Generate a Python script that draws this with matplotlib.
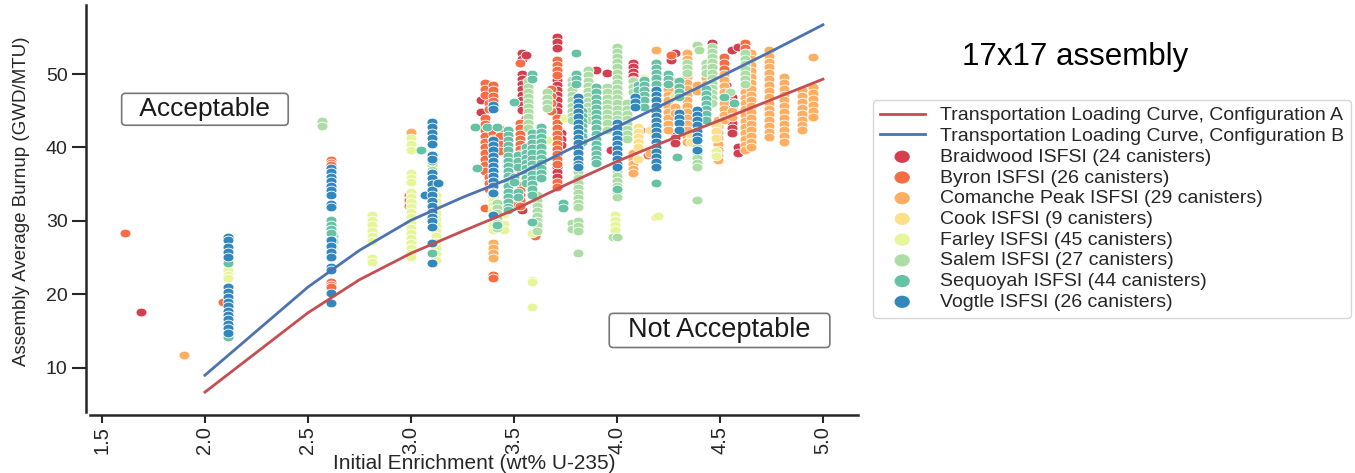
import matplotlib
matplotlib.use("Agg")
import matplotlib.pyplot as plt
from matplotlib.path import Path

plt.rcParams['font.family'] = ['Liberation Sans', 'DejaVu Sans']

# loading curves (enrichment wt% -> minimum burnup GWD/MTU)
curve_enrichment = [2.0, 2.25, 2.5, 2.75, 3.0, 3.25, 3.5, 3.75, 4.0, 4.25, 4.5, 4.75, 5.0]
curve_config_a = [6.7, 12.1, 17.5, 22.0, 25.6, 28.6, 31.5, 34.9, 38.1, 41.0, 43.7, 46.5, 49.3]
curve_config_b = [9.0, 15.0, 21.0, 26.0, 30.1, 33.2, 36.0, 39.5, 42.8, 46.2, 49.6, 53.1, 56.7]

site_labels = [
    "Braidwood ISFSI (24 canisters)",
    "Byron ISFSI (26 canisters)",
    "Comanche Peak ISFSI (29 canisters)",
    "Cook ISFSI (9 canisters)",
    "Farley ISFSI (45 canisters)",
    "Salem ISFSI (27 canisters)",
    "Sequoyah ISFSI (44 canisters)",
    "Vogtle ISFSI (26 canisters)",
]
site_colors = ['#d53e4f', '#f46d43', '#fdae61', '#fee08b',
               '#e6f598', '#abdda4', '#66c2a5', '#3288bd']

# assemblies per site: (initial enrichment, [burnups])
braidwood = [
    (1.69, [17.6]),
    (3.34, [46.5, 44.8]),
    (3.54, [52.8, 52.1, 50.0, 49.3, 48.6, 47.9, 47.2, 46.5, 45.8, 45.1, 31.5]),
    (3.56, [52.6, 44.0, 43.2]),
    (3.71, [55.0, 54.3, 53.5, 49.2, 48.5, 47.8, 47.1, 46.4, 45.7, 45.0, 37.3, 36.6, 36.0]),
    (3.73, [42.0, 41.2, 40.4]),
    (3.90, [50.5, 47.8, 39.7]),
    (3.95, [50.1, 48.1]),
    (3.97, [39.7]),
    (4.08, [51.5, 50.9, 50.3, 49.7, 49.2]),
    (4.11, [42.4]),
    (4.26, [51.9]),
    (4.28, [52.8, 42.0, 41.3, 40.6]),
    (4.46, [54.2]),
    (4.53, [48.5, 47.8, 47.1, 45.4, 44.7]),
    (4.56, [53.3, 46.9, 46.2, 45.5, 44.8, 44.1, 43.4, 42.7, 42.0]),
    (4.59, [53.7, 40.0, 39.2]),
]
byron = [
    (1.61, [28.4]),
    (2.09, [19.0]),
    (2.11, [21.0, 20.6, 20.2]),
    (2.61, [38.3, 37.9, 37.6, 21.7, 21.3, 21.0]),
    (2.99, [33.5, 32.8, 32.0]),
    (3.36, [48.8, 48.0, 47.2, 44.0, 43.2, 42.4, 41.6, 40.8, 40.0, 39.2, 38.4, 37.6, 36.8, 31.7]),
    (3.38, [46.0, 45.2, 36.0, 35.2, 34.4]),
    (3.40, [48.5, 47.8, 47.0, 46.3, 45.5, 42.0, 41.2, 40.4, 39.6, 38.8, 38.0, 37.2, 36.4,
            35.6, 34.8, 34.0, 33.2, 32.4, 22.6, 22.3]),
    (3.43, [42.5, 41.5, 40.5, 39.5]),
    (3.50, [33.0, 32.2]),
    (3.53, [51.5, 43.3, 42.6, 41.9, 41.2, 40.5, 39.8, 39.1, 38.4, 37.7, 37.0, 36.3, 35.6,
            34.9, 34.2, 33.5, 32.8, 32.1]),
    (3.60, [28.0]),
    (3.68, [48.0, 47.0, 46.0, 45.0]),
    (3.71, [51.9, 51.2, 50.5, 49.8, 44.0, 43.3, 42.6, 41.9, 41.2, 40.5, 39.8, 39.1, 38.4,
            37.7, 35.3, 34.6]),
    (4.10, [47.5, 46.5]),
    (4.15, [39.0]),
    (4.26, [52.6, 49.0, 48.2, 47.4]),
    (4.34, [50.3, 45.0, 44.2]),
    (4.45, [51.0, 50.2]),
    (4.52, [52.3, 51.5, 50.7]),
    (4.62, [54.2, 53.5, 52.8, 52.0]),
]
comanche_peak = [
    (1.90, [11.8]),
    (3.00, [42.1]),
    (3.40, [27.0, 26.3, 25.6, 24.9]),
    (4.08, [39.2, 38.5, 37.8, 37.1, 36.5]),
    (4.16, [39.2]),
    (4.19, [53.3]),
    (4.25, [48.0, 47.2, 46.4, 45.6, 44.8, 44.0, 43.2, 42.4]),
    (4.28, [45.5, 44.7]),
    (4.34, [52.8, 52.0, 51.2, 50.4, 49.6, 48.8, 48.0, 47.2, 46.4, 45.6, 44.8, 44.0, 43.2,
            42.4, 41.6, 40.8]),
    (4.39, [48.5, 47.7]),
    (4.43, [51.0, 50.2, 49.4, 48.6, 47.8, 47.0, 46.2, 45.4]),
    (4.49, [43.7, 42.9, 42.1, 41.3, 40.5, 39.7, 38.9, 38.3]),
    (4.52, [50.0, 49.2, 48.4, 47.6, 46.8, 46.0, 45.2, 44.4, 43.7]),
    (4.56, [45.0, 44.2]),
    (4.62, [49.2, 48.4, 47.6, 46.8, 46.0, 45.2, 44.4, 43.6, 42.8, 42.0, 41.2, 40.4, 39.7]),
    (4.65, [52.8, 52.0, 51.2, 50.4, 49.6, 48.8, 48.0, 47.2, 46.4, 45.6, 44.8, 44.0, 43.2,
            42.4, 41.6, 40.8, 40.0]),
    (4.74, [53.3, 52.5, 51.7, 50.9, 50.1, 49.3, 48.5, 47.7, 46.9, 46.1, 45.3, 44.5, 43.7,
            42.9, 42.1, 41.4]),
    (4.81, [49.6, 48.8, 48.0, 47.2, 46.4, 45.6, 44.8, 44.0, 43.2, 42.4, 41.6, 40.7]),
    (4.90, [47.8, 47.0, 46.2, 45.4, 44.6, 43.8, 43.0, 42.4]),
    (4.95, [52.3, 48.2, 47.4, 46.6, 45.8, 45.0, 44.2]),
]
cook = [
    (3.81, [31.8]),
    (3.84, [46.5, 44.5]),
    (4.02, [46.0, 45.3]),
    (4.10, [42.8, 42.1, 41.4, 40.7, 40.1, 38.5]),
    (4.16, [42.4]),
    (4.19, [30.5]),
    (4.28, [47.0]),
    (4.36, [41.5, 40.8]),
    (4.48, [43.0, 42.2, 41.3]),
]
farley = [
    (2.11, [23.3, 22.7, 22.2, 18.2, 17.6, 17.0, 16.4]),
    (2.62, [27.2, 26.5]),
    (2.81, [30.8, 30.1, 29.4, 28.7, 28.0, 27.3, 25.0, 24.4]),
    (3.00, [41.3, 40.5, 39.7, 36.5, 35.9, 35.3, 34.0, 33.3, 32.6, 31.9, 31.2, 30.5, 29.8,
            29.1, 28.4, 27.7, 27.0, 26.3, 25.6, 25.1]),
    (3.12, [33.5, 32.7, 31.9, 31.1, 30.3, 29.5, 28.7, 27.9, 27.1, 26.3, 25.5, 24.7]),
    (3.40, [32.9, 32.2, 31.5, 30.8, 30.1, 29.4, 28.8]),
    (3.45, [32.4, 31.0, 29.6, 28.8]),
    (3.55, [36.5, 35.8]),
    (3.59, [28.4, 22.0, 21.7, 18.3]),
    (3.66, [41.0]),
    (3.75, [44.0]),
    (3.99, [30.8, 30.1, 29.4, 28.8]),
    (4.13, [49.5]),
    (4.20, [30.7]),
    (4.48, [39.5, 38.8]),
]
salem = [
    (2.57, [43.6, 42.9]),
    (2.62, [28.0, 27.3]),
    (3.10, [37.6, 36.9]),
    (3.42, [32.5, 31.8, 31.1, 30.4, 29.7, 29.0]),
    (3.57, [49.0, 48.3, 47.6, 46.9, 46.2, 45.5, 44.8, 44.1, 43.4, 42.7]),
    (3.61, [33.5, 32.8, 32.1, 31.4, 30.7, 30.0, 29.4, 28.7]),
    (3.66, [47.5, 46.8, 46.1, 45.4]),
    (3.78, [49.2, 48.5, 47.8, 47.1, 46.4, 45.7, 45.0, 44.3, 43.7, 29.7, 28.9]),
    (3.81, [37.3, 36.6, 35.9, 35.2, 34.5, 33.8, 33.1, 32.4, 31.9, 30.0, 29.3, 28.6, 25.6]),
    (3.86, [50.5, 49.8, 49.1, 48.4, 47.7, 47.0, 46.3, 45.6, 44.9, 44.2, 43.7]),
    (3.95, [48.2, 47.5, 46.8, 46.1, 45.4, 44.7, 44.0, 43.3, 42.4]),
    (3.98, [27.8]),
    (4.00, [53.7, 53.0, 52.3, 51.6, 50.9, 50.2, 49.5, 48.8, 48.1, 47.4, 46.7, 46.0, 45.3,
            44.6, 43.9, 37.5, 36.8, 36.1, 35.4, 34.7, 34.0, 33.3, 27.8]),
    (4.05, [46.0, 45.3, 44.6, 43.9, 43.2, 42.5, 41.8, 41.1]),
    (4.08, [49.0, 48.3, 47.6]),
    (4.34, [51.5, 50.8, 50.1]),
    (4.39, [54.0, 40.0, 39.3, 38.6, 37.9, 37.3, 32.9]),
    (4.40, [53.3]),
    (4.43, [51.5, 50.8, 50.1]),
    (4.46, [53.7, 53.0, 52.3, 51.6, 50.9, 50.2, 49.5, 48.8, 48.1, 47.4, 46.7, 46.0]),
    (4.55, [47.5]),
    (4.62, [52.8, 52.1, 51.4, 50.7, 50.0, 49.3, 48.6]),
]
sequoyah = [
    (2.11, [24.8, 24.3, 14.2]),
    (2.61, [30.1, 29.5, 28.9, 28.4]),
    (3.05, [39.7]),
    (3.10, [38.2, 34.0, 31.5, 30.0, 25.6]),
    (3.31, [42.8]),
    (3.32, [37.2]),
    (3.37, [42.8]),
    (3.42, [42.8, 29.5]),
    (3.47, [42.4, 41.7, 41.0, 40.3, 39.6, 38.9, 38.2, 37.5, 36.8, 36.1, 35.4, 34.7, 34.0,
            33.3, 32.6, 31.9, 31.5]),
    (3.50, [46.2, 36.0, 35.3]),
    (3.52, [39.0, 38.2, 37.4, 34.0, 33.2]),
    (3.56, [40.0, 39.3, 38.6, 37.9, 37.2, 36.5, 35.8, 35.1]),
    (3.59, [50.0, 49.3, 42.0, 41.3, 40.6, 39.9, 39.2, 38.5, 37.8, 37.1, 36.4, 35.7, 35.0,
            34.3, 33.6, 29.9]),
    (3.63, [42.8, 42.1, 41.4, 40.7, 40.0, 39.3, 38.6, 37.9, 37.2, 36.5, 35.8]),
    (3.74, [32.4, 31.8]),
    (3.80, [52.9, 50.0, 49.3, 48.6]),
    (3.83, [45.0, 44.3, 43.6, 42.9, 42.2, 41.5, 40.8]),
    (3.90, [48.2, 47.5, 46.8, 46.1, 45.4, 44.7, 44.0, 43.3, 42.6, 41.9, 41.2, 40.5, 39.8,
            39.1, 38.4, 37.9]),
    (4.00, [34.3]),
    (4.10, [48.5, 47.8]),
    (4.13, [49.2, 48.5, 47.8, 47.1, 46.4, 45.5]),
    (4.19, [51.5, 50.8, 50.1, 49.4, 48.7, 35.2]),
    (4.25, [50.0, 49.3, 48.6]),
    (4.29, [38.7]),
    (4.30, [49.0, 48.3, 47.6, 46.9]),
    (4.43, [48.0, 47.3, 46.6, 45.9, 45.2, 44.5, 43.8]),
    (4.52, [46.9]),
    (4.57, [46.1]),
]
vogtle = [
    (2.11, [27.8, 27.4, 26.5, 25.8, 25.1, 21.0, 20.3, 19.6, 19.0, 18.4, 17.8, 17.2, 16.6,
            16.0, 15.4, 14.8]),
    (2.61, [37.2, 36.6, 36.0, 35.4, 34.8, 34.2, 33.6, 32.3, 31.9, 27.4, 26.6, 25.8, 25.1,
            23.7, 23.3, 20.2, 18.8]),
    (3.07, [33.5]),
    (3.10, [43.5, 42.8, 42.0, 41.3, 40.5, 39.0, 38.5, 36.5, 35.8, 35.0, 34.2, 33.5, 32.7,
            32.0, 31.2, 30.5, 30.0, 29.2, 27.0, 24.3]),
    (3.13, [35.2]),
    (3.40, [45.8, 45.2, 41.0, 40.3, 39.6, 38.9, 38.2, 37.5, 36.8, 36.1, 35.4, 34.7, 34.0,
            33.8, 30.8]),
    (3.81, [46.9, 46.2, 45.5, 44.8, 44.1, 43.4, 42.7, 42.0, 41.3, 40.6, 39.9, 39.2, 38.5,
            37.8, 37.3]),
    (4.00, [43.3, 42.6, 41.9, 41.2, 40.5, 39.8, 39.1, 38.4, 37.7, 37.3]),
    (4.09, [46.9, 46.2, 45.5]),
    (4.19, [47.8, 47.1, 46.4, 45.7, 45.0, 44.3, 43.6, 42.9, 42.2, 41.5, 40.8, 40.1, 39.4,
            38.7, 38.0, 37.3]),
    (4.30, [44.7, 44.0, 43.3, 42.4]),
    (4.39, [45.1, 44.4, 43.7, 43.0, 42.3, 41.6, 41.0, 39.7]),
]
site_data = [braidwood, byron, comanche_peak, cook, farley, salem, sequoyah, vogtle]


def flatten(columns):
    xs, ys = [], []
    for enr, burnups in columns:
        xs += [enr] * len(burnups)
        ys += burnups
    return xs, ys


circle = Path.unit_circle()
ellipse = Path(circle.vertices * [1.0, 0.8], circle.codes)

fig = plt.figure(figsize=(13.55, 4.73), dpi=100)
ax = fig.add_axes([0.0664, 0.129, 0.5668, 0.8605])

line_a, = ax.plot(curve_enrichment, curve_config_a, color='#c44e52', lw=2,
                  label="Transportation Loading Curve, Configuration A", zorder=3)
line_b, = ax.plot(curve_enrichment, curve_config_b, color='#4c72b0', lw=2,
                  label="Transportation Loading Curve, Configuration B", zorder=3)

handles = [line_a, line_b]
for data, color, label in zip(site_data, site_colors, site_labels):
    x, y = flatten(data)
    ax.scatter(x, y, s=62, marker=ellipse, color=color, edgecolors='white',
               linewidths=0.6, zorder=2)
    handles.append(ax.scatter([], [], s=62, marker=ellipse, color=color,
                              edgecolors='none', label=label))

ax.set_xlim(1.442, 5.17)
ax.set_ylim(4.0, 59.4)
ax.set_xticks([1.5, 2.0, 2.5, 3.0, 3.5, 4.0, 4.5, 5.0])
ax.set_yticks([10, 20, 30, 40, 50])
for side in ['top', 'right']:
    ax.spines[side].set_visible(False)
ax.spines['left'].set_position(('outward', 3))
ax.spines['bottom'].set_position(('outward', 2))
for side in ['left', 'bottom']:
    ax.spines[side].set_linewidth(1.8)
    ax.spines[side].set_color('#262626')
ax.tick_params(axis='x', labelsize=14.5, length=6, width=1.5, pad=2,
               labelrotation=90, color='#262626', labelcolor='#262626')
ax.tick_params(axis='y', labelsize=14, length=10, width=1.5, pad=3,
               color='#262626', labelcolor='#262626')

ax.set_xlabel("Initial Enrichment (wt% U-235)", fontsize=15, color='#262626', labelpad=0)
ax.set_ylabel("Assembly Average Burnup (GWD/MTU)", fontsize=13.5, color='#262626')
ax.yaxis.set_label_coords(-0.078, 0.518)

box = dict(boxstyle='round,pad=0.15', fc='white', ec='#777777', lw=1.2)
ax.text(2.0, 45.2, "  Acceptable  ", fontsize=19, ha='center', va='center',
        bbox=box, color='#1a1a1a')
ax.text(4.498, 15.1, "  Not Acceptable  ", fontsize=19.5, ha='center', va='center',
        bbox=box, color='#1a1a1a')

fig.text(0.7934, 0.8795, "17x17 assembly", fontsize=22.5, ha='center', va='center')

leg = ax.legend(handles=handles, loc='upper left',
                bbox_to_anchor=(873 / 1355, 1 - 100 / 473),
                bbox_transform=fig.transFigure, borderaxespad=0,
                fontsize=14, labelspacing=0.16, handlelength=2.3,
                handletextpad=0.8, markerscale=1.4, frameon=True,
                borderpad=0.35)
for t in leg.get_texts():
    t.set_color('#262626')

fig.savefig("out.png", dpi=100)
